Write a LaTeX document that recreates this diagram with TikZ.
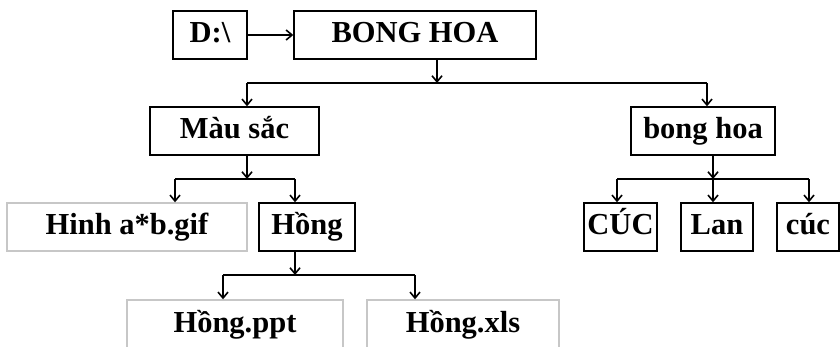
\documentclass[tikz,border=0pt]{standalone}
\usepackage{fontspec}
\setmainfont{Liberation Serif}
\usetikzlibrary{arrows.meta}
\begin{document}
\begin{tikzpicture}[x=1pt,y=-1pt,
  box/.style={draw=black,line width=1.4pt,inner sep=0pt,minimum height=48pt,
    font=\fontsize{30.5}{36}\selectfont\bfseries,text height=21pt,text depth=5pt},
  filebox/.style={box,draw=black!22},
  conn/.style={line width=1.4pt},
  arr/.style={conn,-{Straight Barb[length=6pt,width=10pt,line width=1.6pt]}}]
\useasboundingbox (0,0) rectangle (840,347);
\clip (0,0) rectangle (840,347);
\fill[white] (0,0) rectangle (840,347);
% nodes
\node[box,minimum width=74pt] (d) at (210,35) {D:\textbackslash};
\node[box,minimum width=242pt] (root) at (415,35) {BONG HOA};
\node[box,minimum width=169pt] (mau) at (234.5,131) {Màu sắc};
\node[box,minimum width=144pt] (bh) at (703,131) {bong hoa};
\node[filebox,minimum width=240pt] (hinh) at (127,227) {Hinh a*b.gif};
\node[box,minimum width=96pt] (hong) at (307,227) {Hồng};
\node[box,minimum width=73pt] (cuc1) at (620.5,227) {CÚC};
\node[box,minimum width=72pt] (lan) at (717,227) {Lan};
\node[box,minimum width=62pt] (cuc2) at (808,227) {cúc};
\node[filebox,minimum width=216pt] (ppt) at (235,324) {Hồng.ppt};
\node[filebox,minimum width=192pt] (xls) at (463,324) {Hồng.xls};
% junctions
\coordinate (j0) at (437,83);
\coordinate (l0) at (247,83);
\coordinate (r0) at (707,83);
\coordinate (j1) at (247,179);
\coordinate (l1) at (175,179);
\coordinate (r1) at (295,179);
\coordinate (j2) at (295,275);
\coordinate (l2) at (223,275);
\coordinate (r2) at (415,275);
\coordinate (j3) at (713,179);
\coordinate (l3) at (617,179);
\coordinate (r3) at (809,179);
% connectors
\draw[arr] (d.east) -- (root.west);
\draw[arr] (root.south -| j0) -- (j0);
\draw[conn] (l0) -- (r0);
\draw[arr] (l0) -- (mau.north -| l0);
\draw[arr] (r0) -- (bh.north -| r0);
\draw[arr] (mau.south -| j1) -- (j1);
\draw[conn] (l1) -- (r1);
\draw[arr] (l1) -- (hinh.north -| l1);
\draw[arr] (r1) -- (hong.north -| r1);
\draw[arr] (hong.south -| j2) -- (j2);
\draw[conn] (l2) -- (r2);
\draw[arr] (l2) -- (ppt.north -| l2);
\draw[arr] (r2) -- (xls.north -| r2);
\draw[arr] (bh.south -| j3) -- (j3);
\draw[conn] (l3) -- (r3);
\draw[arr] (l3) -- (cuc1.north -| l3);
\draw[arr] (j3) -- (lan.north -| j3);
\draw[arr] (r3) -- (cuc2.north -| r3);
\end{tikzpicture}
\end{document}
